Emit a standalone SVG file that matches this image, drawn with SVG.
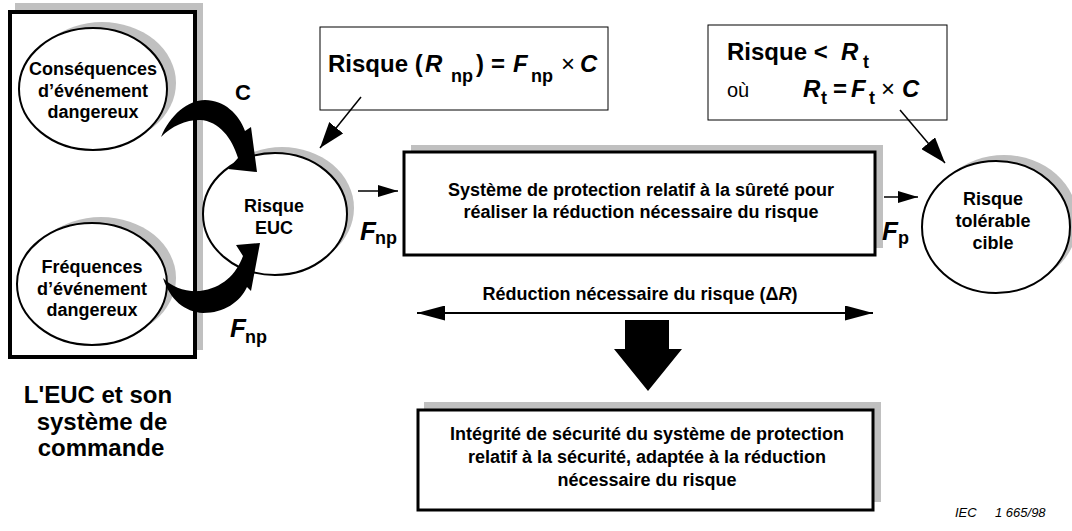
<svg xmlns="http://www.w3.org/2000/svg" width="1072" height="531" viewBox="0 0 1072 531">
<defs>
<style>
text{font-family:'Liberation Sans',Arial,Helvetica,sans-serif;fill:#000}
.b{font-weight:bold}
.i{font-style:italic}
.s18{font-size:18px}
.mid{text-anchor:middle}
.sh{fill:#c0c0c0;stroke:none}
.ell{fill:#fff;stroke:#000;stroke-width:2}
.box3{fill:#fff;stroke:#000;stroke-width:3}
.thin{fill:#fff;stroke:#000;stroke-width:1}
.ln{fill:none;stroke:#000;stroke-width:1.5}
</style>
<marker id="ah" viewBox="0 0 20 12" refX="20" refY="6" markerWidth="20" markerHeight="12" markerUnits="userSpaceOnUse" orient="auto-start-reverse"><path d="M0,0 L20,6 L0,12 Z" fill="#000"/></marker>
<marker id="ahL" viewBox="0 0 26 18" refX="26" refY="9" markerWidth="26" markerHeight="18" markerUnits="userSpaceOnUse" orient="auto-start-reverse"><path d="M0,0 L26,9 L0,18 Z" fill="#000"/></marker>
<marker id="ahD" viewBox="0 0 28 15" refX="28" refY="7.5" markerWidth="28" markerHeight="15" markerUnits="userSpaceOnUse" orient="auto-start-reverse"><path d="M0,0 L28,7.5 L0,15 Z" fill="#000"/></marker>
</defs>
<rect width="1072" height="531" fill="#fff"/>

<g id="euc-system">
<rect class="sh" x="15" y="3" width="188" height="347"/>
<rect x="10" y="12" width="185" height="345" fill="#fff" stroke="#000" stroke-width="4"/>
<text class="b mid" x="98" y="403" font-size="24">L'EUC et son</text>
<text class="b mid" x="102" y="430" font-size="24">système de</text>
<text class="b mid" x="101" y="456" font-size="24">commande</text>
</g>

<g id="consequences">
<ellipse class="sh" cx="102" cy="83" rx="74" ry="61"/>
<ellipse class="ell" cx="93" cy="89" rx="74" ry="61"/>
<text class="b s18 mid" x="93" y="75">Conséquences</text>
<text class="b s18 mid" x="93" y="97">d’événement</text>
<text class="b s18 mid" x="93" y="118">dangereux</text>
</g>

<g id="frequences">
<ellipse class="sh" cx="101" cy="278" rx="75" ry="61"/>
<ellipse class="ell" cx="92" cy="284" rx="75" ry="61"/>
<text class="b s18 mid" x="92" y="273">Fréquences</text>
<text class="b s18 mid" x="92" y="295">d’événement</text>
<text class="b s18 mid" x="92" y="316">dangereux</text>
</g>

<g id="risque-euc">
<ellipse class="sh" cx="282" cy="208" rx="72" ry="61"/>
<ellipse class="ell" cx="275" cy="214" rx="72" ry="61"/>
<text class="b s18 mid" x="274" y="212">Risque</text>
<text class="b s18 mid" x="274" y="234">EUC</text>
</g>

<g id="formule-rnp">
<rect class="thin" x="320" y="27" width="288" height="83"/>
<text class="b" font-size="24" x="328" y="72">Risque (</text>
<text class="b i" font-size="24" x="425" y="72">R</text>
<text class="b s18" x="451" y="82">np</text>
<text class="b" font-size="24" x="476" y="72">)</text>
<text class="b" font-size="24" x="491" y="72">=</text>
<text class="b i" font-size="24" x="513" y="72">F</text>
<text class="b s18" x="531" y="82">np</text>
<text font-size="24" x="561" y="72">×</text>
<text class="b i" font-size="24" x="580" y="72">C</text>
</g>

<g id="formule-rt">
<rect class="thin" x="708" y="25" width="239" height="95"/>
<text class="b" font-size="24" x="727" y="60">Risque &lt;</text>
<text class="b i" font-size="24" x="841" y="60">R</text>
<text class="b s18" x="863" y="68">t</text>
<text font-size="20" x="727" y="97">où</text>
<text class="b i" font-size="24" x="803" y="97">R</text>
<text class="b s18" x="821" y="104">t</text>
<text class="b" font-size="24" x="833" y="97">=</text>
<text class="b i" font-size="24" x="851" y="97">F</text>
<text class="b s18" x="869" y="104">t</text>
<text font-size="24" x="881" y="97">×</text>
<text class="b i" font-size="24" x="902" y="97">C</text>
</g>

<g id="systeme-protection">
<rect class="sh" x="411" y="145" width="472" height="103"/>
<rect class="box3" x="404" y="152" width="471" height="103"/>
<text class="b s18 mid" x="641" y="196">Système de protection relatif à la sûreté pour</text>
<text class="b s18 mid" x="641" y="218">réaliser la réduction nécessaire du risque</text>
</g>

<g id="risque-tolerable">
<ellipse class="sh" cx="1004" cy="221" rx="74" ry="66"/>
<ellipse class="ell" cx="996" cy="227" rx="74" ry="66"/>
<text class="b s18 mid" x="993" y="205">Risque</text>
<text class="b s18 mid" x="993" y="227">tolérable</text>
<text class="b s18 mid" x="993" y="249">cible</text>
</g>

<g id="integrite">
<rect class="sh" x="424" y="402" width="457" height="100"/>
<rect class="box3" x="418" y="410" width="455" height="100"/>
<text class="b s18 mid" x="647" y="440">Intégrité de sécurité du système de protection</text>
<text class="b s18 mid" x="647" y="463">relatif à la sécurité, adaptée à la réduction</text>
<text class="b s18 mid" x="647" y="486">nécessaire du risque</text>
</g>

<g id="connectors">
<path d="M161,137 C170,115 188,100 205,100 C224,100 239,114 245,131 L251,127 L257,172 L228,169 L238,158 C232,138 219,121 200,120 C185,120 172,126 161,137 Z" fill="#000"/>
<text class="b" font-size="22" x="235" y="100">C</text>
<path d="M163,278 C170,300 185,312 203,313 C224,313 240,302 247,287 L251,291 L260,243 L236,245 L243,256 C236,275 222,288 200,291 C185,292 172,287 163,278 Z" fill="#000"/>
<text class="b i" font-size="26" x="230" y="337">F</text>
<text class="b s18" x="245" y="343">np</text>
<line class="ln" x1="361" y1="97" x2="320" y2="148" marker-end="url(#ahL)"/>
<line class="ln" x1="900" y1="110" x2="945" y2="163" marker-end="url(#ahL)"/>
<line class="ln" x1="358" y1="191" x2="398" y2="191" marker-end="url(#ah)"/>
<text class="b i" font-size="26" x="360" y="240">F</text>
<text class="b s18" x="375" y="244">np</text>
<line class="ln" x1="884" y1="197" x2="918" y2="197" marker-end="url(#ah)"/>
<text class="b i" font-size="26" x="882" y="240">F</text>
<text class="b s18" x="898" y="244">p</text>
<text class="b s18 mid" x="640" y="300">Réduction nécessaire du risque (Δ<tspan class="i">R</tspan>)</text>
<line x1="417" y1="313" x2="873" y2="313" stroke="#000" stroke-width="2" marker-start="url(#ahD)" marker-end="url(#ahD)"/>
<path d="M625,320 H669 V349 H682 L648,391 L614,349 H625 Z" fill="#000"/>
</g>

<text class="i" font-size="13" x="955" y="517">IEC</text>
<text class="i" font-size="13" x="995" y="517">1 665/98</text>
</svg>
